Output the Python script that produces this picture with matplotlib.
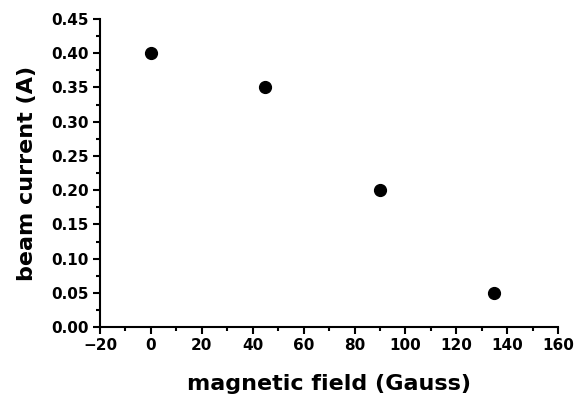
import matplotlib.pyplot as plt
from matplotlib.ticker import MultipleLocator

plt.rcParams['font.family'] = ['DejaVu Sans']
plt.rcParams['font.weight'] = 'bold'

field = [0, 45, 90, 135]
current = [0.40, 0.35, 0.20, 0.05]

fig = plt.figure(figsize=(5.85, 3.96), dpi=100)
ax = fig.add_axes([0.171, 0.174, 0.783, 0.778])

ax.plot(field, current, 'o', color='black', markersize=8.5, clip_on=False)

ax.set_xlim(-20, 160)
ax.set_ylim(0, 0.45)
ax.xaxis.set_major_locator(MultipleLocator(20))
ax.xaxis.set_minor_locator(MultipleLocator(10))
ax.yaxis.set_major_locator(MultipleLocator(0.05))
ax.yaxis.set_minor_locator(MultipleLocator(0.025))
ax.yaxis.set_major_formatter(lambda v, p: f'{v:.2f}')
ax.xaxis.set_major_formatter(lambda v, p: f'{v:.0f}'.replace('-', '\u2212'))

for side in ['top', 'right']:
    ax.spines[side].set_visible(False)
for side in ['left', 'bottom']:
    ax.spines[side].set_linewidth(1.5)

ax.tick_params(which='major', direction='out', length=5, width=1.5, labelsize=11, pad=3)
ax.tick_params(which='minor', direction='out', length=3, width=1.5)

ax.set_xlabel('magnetic field (Gauss)', fontsize=16, fontweight='bold', labelpad=15)
ax.set_ylabel('beam current (A)', fontsize=16, fontweight='bold', labelpad=10)

fig.savefig('out.png', dpi=100)
